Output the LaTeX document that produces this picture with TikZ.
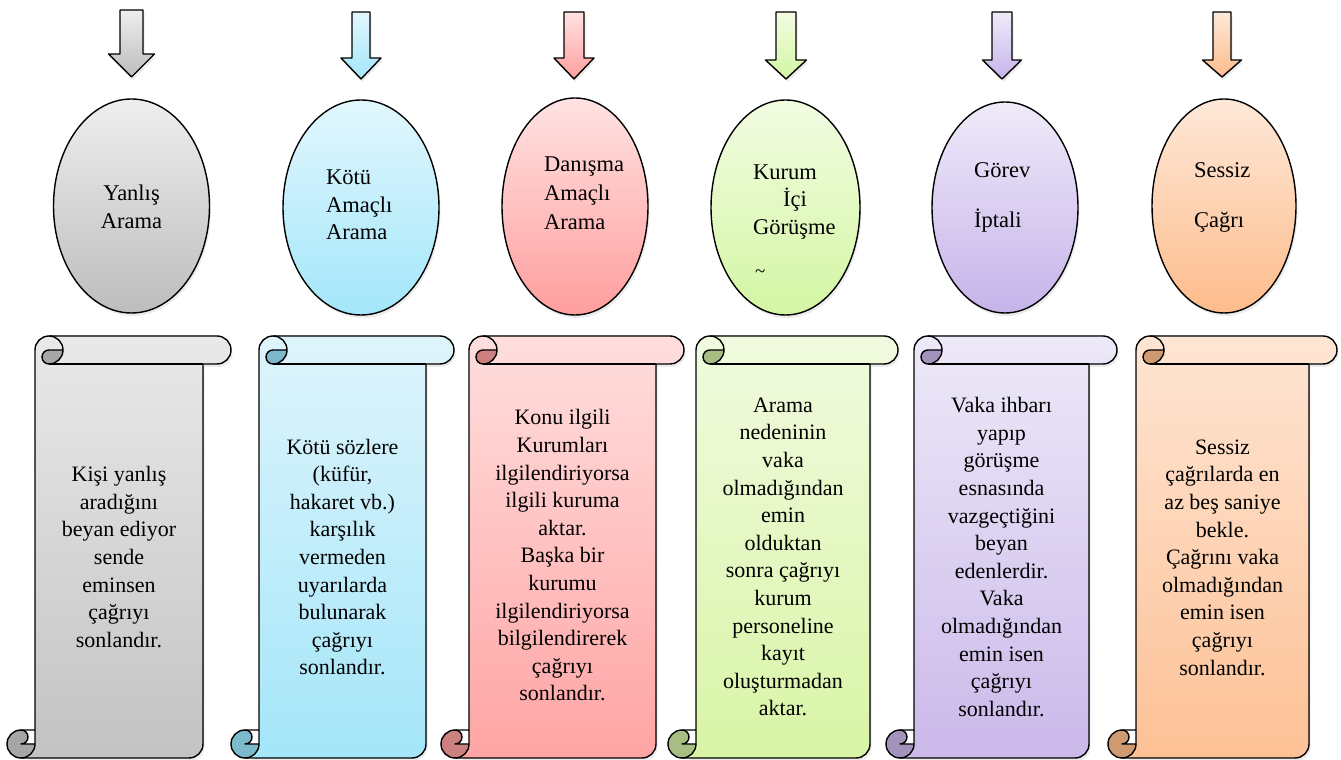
\documentclass[tikz,border=0pt]{standalone}
\usepackage{fontspec}
\setmainfont{Liberation Serif}
\usetikzlibrary{shapes.geometric,shadows}
\definecolor{a1t}{HTML}{EEEEEE}\definecolor{a1b}{HTML}{BDBDBD}
\definecolor{a2t}{HTML}{E2F7FD}\definecolor{a2b}{HTML}{A3E6FA}
\definecolor{a3t}{HTML}{FFE2E2}\definecolor{a3b}{HTML}{FF9E9E}
\definecolor{a4t}{HTML}{F2FCE2}\definecolor{a4b}{HTML}{D3F6A3}
\definecolor{a5t}{HTML}{EFEAF9}\definecolor{a5b}{HTML}{C6B4EA}
\definecolor{a6t}{HTML}{FEE8D8}\definecolor{a6b}{HTML}{FDBC8C}
\definecolor{s1t}{HTML}{E9E9E9}\definecolor{s1b}{HTML}{C3C3C3}\definecolor{s1d}{HTML}{A6A6A6}
\definecolor{s2t}{HTML}{DEF4FB}\definecolor{s2b}{HTML}{A4E6F9}\definecolor{s2d}{HTML}{7DB9CC}
\definecolor{s3t}{HTML}{FFDEDE}\definecolor{s3b}{HTML}{FFA4A4}\definecolor{s3d}{HTML}{CC8080}
\definecolor{s4t}{HTML}{F1FADF}\definecolor{s4b}{HTML}{D8F5A6}\definecolor{s4d}{HTML}{A6BE84}
\definecolor{s5t}{HTML}{EDE9F8}\definecolor{s5b}{HTML}{CBB9EA}\definecolor{s5d}{HTML}{A293BC}
\definecolor{s6t}{HTML}{FEE5D3}\definecolor{s6b}{HTML}{FDC196}\definecolor{s6d}{HTML}{CF9A72}
\tikzset{
  outline/.style={draw=black,line width=1.4pt,line join=round},
  softshadow/.style={drop shadow={opacity=0.15,shadow xshift=1.5pt,shadow yshift=-3pt}},
  ell/.style={ellipse,outline,inner sep=0pt,softshadow},
  lbl/.style={inner sep=0pt,font=\fontsize{22.5}{28}\selectfont},
  bodytext/.style={inner sep=0pt,align=center,font=\fontsize{22}{27.6}\selectfont},
  pics/downarrow/.style n args={6}{code={%
    % #1 shaft half width, #2 head half width, #3 length, #4 head length, #5 top col, #6 bottom col
    \path[outline,softshadow,top color=#5,bottom color=#6]
      (0,0) -- (#2,#4) -- (#1,#4) -- (#1,#3) -- (-#1,#3) -- (-#1,#4) -- (-#2,#4) -- cycle;
  }},
  pics/scroll/.style n args={5}{code={%
    % #1 width, #2 height, #3 top col, #4 bottom col, #5 dark col
    \fill[softshadow,top color=#3,bottom color=#4]
      (14,-#2) arc[start angle=-90,delta angle=90,radius=14]
      -- (28,-14) arc[start angle=180,delta angle=-90,radius=14]
      -- (#1-14,0) arc[start angle=90,delta angle=-180,radius=14]
      -- (#1-28,-28) -- (#1-28,-#2+14) arc[start angle=0,delta angle=-90,radius=14]
      -- cycle;
    \fill[#5]
      (42+14,-14) arc[start angle=0,delta angle=-90,radius=14]
      arc[start angle=-90,delta angle=-180,radius=7] -- cycle;
    \fill[#5]
      (28,-#2+14) arc[start angle=0,delta angle=-270,radius=14]
      arc[start angle=90,delta angle=-180,radius=7] -- cycle;
    \draw[outline]
      (28,-#2+28) -- (28,-14) arc[start angle=180,delta angle=-90,radius=14]
      -- (#1-14,0) arc[start angle=90,delta angle=-180,radius=14]
      -- (#1-28,-28) -- (#1-28,-#2+14) arc[start angle=0,delta angle=-90,radius=14]
      -- (14,-#2) arc[start angle=-90,delta angle=-180,radius=14] -- cycle;
    \draw[outline]
      (42,0) arc[start angle=90,delta angle=-180,radius=14]
      arc[start angle=-90,delta angle=-180,radius=7] -- (56,-14);
    \draw[outline] (#1-28,-28) -- (42,-28);
    \draw[outline]
      (14,-#2+28) arc[start angle=90,delta angle=-180,radius=7] -- (28,-#2+14);
    \draw[outline]
      (14,-#2) arc[start angle=-90,delta angle=90,radius=14] -- (28,-#2+28);
  }}
}
\begin{document}
\begin{tikzpicture}[x=1pt,y=1pt]
\useasboundingbox[fill=white] (0,0) rectangle (1341,760);

% arrows (pixel y -> 760-y)
\pic at (131.5,683) {downarrow={11.5}{23}{67}{23}{a1t}{a1b}};
\pic at (361,681) {downarrow={9}{20}{67}{21}{a2t}{a2b}};
\pic at (574,681) {downarrow={10}{20}{67}{21}{a3t}{a3b}};
\pic at (786,681) {downarrow={10}{20.5}{67}{19}{a4t}{a4b}};
\pic at (1002,681) {downarrow={10}{19.5}{67}{19}{a5t}{a5b}};
\pic at (1222,683) {downarrow={9}{19.5}{65}{17}{a6t}{a6b}};

% ellipses
\node[ell,minimum width=156pt,minimum height=214pt,top color=a1t,bottom color=a1b] (e1) at (131.5,554) {};
\node[ell,minimum width=156pt,minimum height=215pt,top color=a2t,bottom color=a2b] (e2) at (361,552.5) {};
\node[ell,minimum width=146pt,minimum height=217pt,top color=a3t,bottom color=a3b] (e3) at (575,553.5) {};
\node[ell,minimum width=149pt,minimum height=215pt,top color=a4t,bottom color=a4b] (e4) at (785.5,552.5) {};
\node[ell,minimum width=146pt,minimum height=211pt,top color=a5t,bottom color=a5b] (e5) at (1005,552.5) {};
\node[ell,minimum width=144pt,minimum height=214pt,top color=a6t,bottom color=a6b] (e6) at (1224,554) {};

% ellipse labels
\node[lbl,anchor=base] (l1a) at (131.5,559) {Yanlış};
\node[lbl,anchor=base] (l1b) at (131.5,531) {Arama};
\node[lbl,anchor=base west] (l2a) at (326,575) {Kötü};
\node[lbl,anchor=base west] (l2b) at (326,547) {Amaçlı};
\node[lbl,anchor=base west] (l2c) at (326,520) {Arama};
\node[lbl,anchor=base west] (l3a) at (544,588) {Danışma};
\node[lbl,anchor=base west] (l3b) at (544,559) {Amaçlı};
\node[lbl,anchor=base west] (l3c) at (544,530) {Arama};
\node[lbl,anchor=base west] (l4a) at (753,580) {Kurum};
\node[lbl,anchor=base west] (l4b) at (783,553) {İçi};
\node[lbl,anchor=base west] (l4c) at (753,525) {Görüşme};
\node[inner sep=0pt,font=\fontsize{19}{19}\selectfont,anchor=base west] (l4d) at (755,482) {\textasciitilde};
\node[lbl,anchor=base west] (l5a) at (974,582) {Görev};
\node[lbl,anchor=base west] (l5b) at (974,532) {İptali};
\node[lbl,anchor=base west] (l6a) at (1194,582) {Sessiz};
\node[lbl,anchor=base west] (l6b) at (1194,532) {Çağrı};

% scrolls (placed at top-left of box)
\pic at (7,424) {scroll={224}{422}{s1t}{s1b}{s1d}};
\pic at (231,424) {scroll={223}{422}{s2t}{s2b}{s2d}};
\pic at (441,424) {scroll={243}{422}{s3t}{s3b}{s3d}};
\pic at (668,424) {scroll={230}{422}{s4t}{s4b}{s4d}};
\pic at (886,424) {scroll={231}{422}{s5t}{s5b}{s5d}};
\pic at (1108,424) {scroll={229}{422}{s6t}{s6b}{s6d}};

% scroll texts
\node[bodytext] (t1) at (119,203) {Kişi yanlış\\aradığını\\beyan ediyor\\sende\\eminsen\\çağrıyı\\sonlandır.};
\node[bodytext] (t2) at (342.5,203) {Kötü sözlere\\(küfür,\\hakaret vb.)\\karşılık\\vermeden\\uyarılarda\\bulunarak\\çağrıyı\\sonlandır.};
\node[bodytext] (t3) at (562.5,204.5) {Konu ilgili\\Kurumları\\ilgilendiriyorsa\\ilgili kuruma\\aktar.\\Başka bir\\kurumu\\ilgilendiriyorsa\\bilgilendirerek\\çağrıyı\\sonlandır.};
\node[bodytext] (t4) at (783,203) {Arama\\nedeninin\\vaka\\olmadığından\\emin\\olduktan\\sonra çağrıyı\\kurum\\personeline\\kayıt\\oluşturmadan\\aktar.};
\node[bodytext] (t5) at (1001.5,203) {Vaka ihbarı\\yapıp\\görüşme\\esnasında\\vazgeçtiğini\\beyan\\edenlerdir.\\Vaka\\olmadığından\\emin isen\\çağrıyı\\sonlandır.};
\node[bodytext] (t6) at (1222.5,202.5) {Sessiz\\çağrılarda en\\az beş saniye\\bekle.\\Çağrını vaka\\olmadığından\\emin isen\\çağrıyı\\sonlandır.};
\end{tikzpicture}
\end{document}
